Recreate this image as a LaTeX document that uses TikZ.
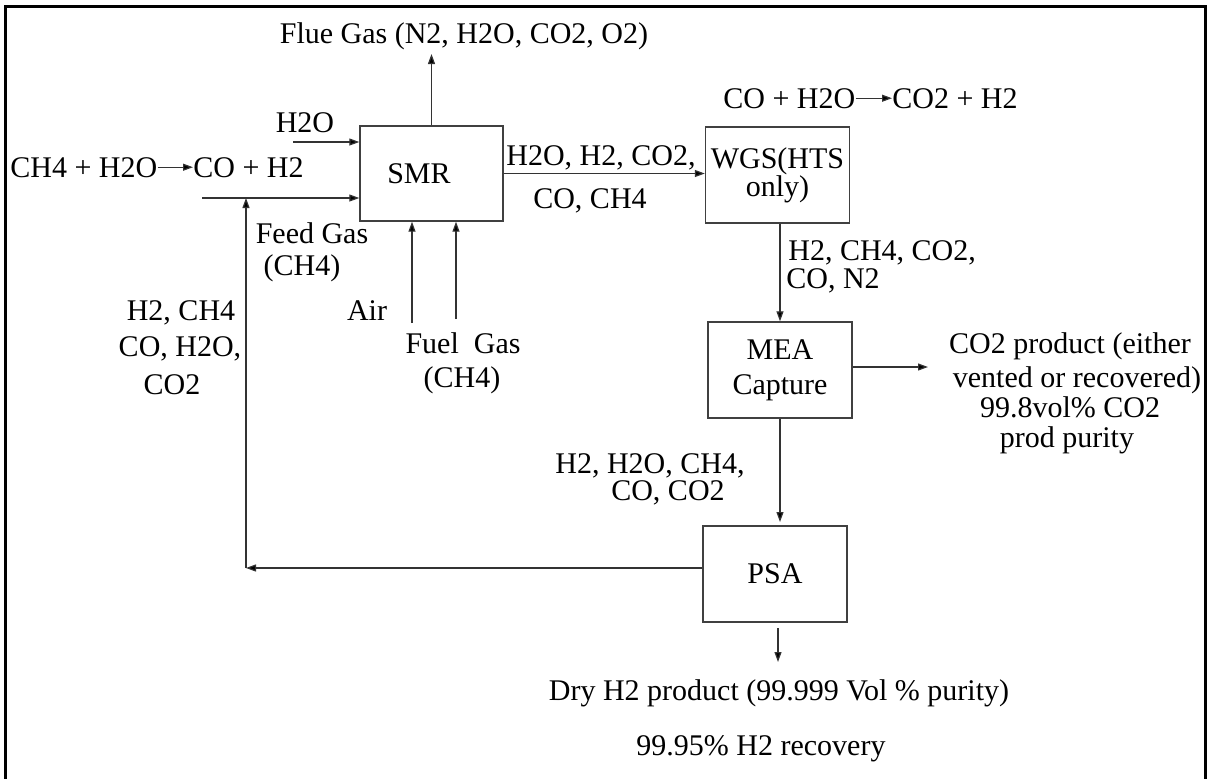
\documentclass[tikz,border=0pt]{standalone}
\usepackage{fontspec}
\setmainfont{Liberation Serif}
\usetikzlibrary{arrows.meta}
\begin{document}
\begin{tikzpicture}[x=0.5pt,y=-0.5pt,
  every node/.style={font=\fontsize{15}{17}\selectfont, inner sep=0pt},
  box/.style={draw=black!75, line width=0.7pt, minimum width=72pt, minimum height=48pt, align=center},
  lbl/.style={anchor=base},
  arr/.style={draw=black!80, line width=0.6pt, -{Triangle[length=5pt,width=3.5pt,fill=black]}},
  frame/.style={line width=1.5pt, line cap=rect}]
\useasboundingbox (0,0) rectangle (1207,778);
\draw[frame] (5.5,780) -- (5.5,6.5) -- (1205.5,6.5) -- (1205.5,780);

% process boxes
\node[box, minimum width=71.5pt, minimum height=47.5pt] (smr) at (431.5,173.5) {SMR\hspace*{12.5pt}};
\node[box, font=\fontsize{15}{14}\selectfont] (wgs) at (777.5,175) {WGS(HTS\\only)};
\node[box, font=\fontsize{15}{17.5}\selectfont] (mea) at (780,370) {MEA\\Capture};
\node[box] (psa) at (775,574) {PSA};

% flue gas
\node[lbl] (flue) at (464,43) {Flue Gas (N2, H2O, CO2, O2)};
\coordinate (fluetip) at (431.5,54);
\draw[arr] (smr.north) -- (fluetip);

% H2O in
\node[lbl] (h2o) at (305,132) {H2O};
\coordinate (h2oin) at (293,142);
\draw[arr] (h2oin) -- (h2oin -| smr.west);

% reforming reaction
\node[lbl, anchor=base west] (r1a) at (10,177) {CH4 + H2O};
\node[lbl, anchor=base west] (r1b) at (193,177) {CO + H2};
\draw[arr] (r1a.east) -- (r1b.west);

% feed
\coordinate (feedin) at (202,198);
\draw[arr] (feedin) -- (feedin -| smr.west);
\node[lbl] (feed1) at (312,243) {Feed Gas};
\node[lbl] (feed2) at (302,275) {(CH4)};

% air and fuel
\coordinate (airin) at (412,323);
\draw[arr] (airin) -- (airin |- smr.south);
\node[lbl] (air) at (367,320) {Air};
\coordinate (fuelin) at (456,319);
\draw[arr] (fuelin) -- (fuelin |- smr.south);
\node[lbl] (fuel1) at (463,353) {Fuel\ \ Gas};
\node[lbl] (fuel2) at (462,387) {(CH4)};

% recycle
\coordinate (rc) at (246,568);
\coordinate (rtop) at (246,198);
\draw[arr] ([yshift=3pt]psa.west) -- (rc);
\draw[arr] (rc) -- (rtop);
\node[lbl] (rl1) at (181,320) {H2, CH4};
\node[lbl] (rl2) at (180,356) {CO, H2O,};
\node[lbl] (rl3) at (172,394) {CO2};

% SMR -> WGS
\draw[arr] (smr.east) -- (wgs.west |- smr.east);
\node[lbl] (s1) at (601,165) {H2O, H2, CO2,};
\node[lbl] (s2) at (590,208) {CO, CH4};

% shift reaction
\node[lbl, anchor=base west] (r2a) at (723,108) {CO + H2O};
\node[lbl, anchor=base west] (r2b) at (892,108) {CO2 + H2};
\draw[arr] (r2a.east) -- (r2b.west);

% WGS -> MEA
\draw[arr] (mea.north |- wgs.south) -- (mea.north);
\node[lbl, anchor=base west] (w1) at (788,260) {H2, CH4, CO2,};
\node[lbl, anchor=base west] (w2) at (786,288) {CO, N2};

% MEA -> PSA
\coordinate (psatop) at (780,522);
\draw[arr] (mea.south) -- (psatop);
\node[lbl] (m1) at (650,473) {H2, H2O, CH4,};
\node[lbl] (m2) at (668,500) {CO, CO2};

% MEA -> CO2 product
\coordinate (co2tip) at (928,367);
\draw[arr] (mea.east |- co2tip) -- (co2tip);
\node[lbl] (c1) at (1070,353) {CO2 product (either};
\node[lbl] (c2) at (1077,387) {vented or recovered)};
\node[lbl] (c3) at (1070,417) {99.8vol\% CO2};
\node[lbl] (c4) at (1067,447) {prod purity};

% PSA -> H2 product
\coordinate (h2top) at (778,628);
\coordinate (h2tip) at (778,662);
\draw[arr] (h2top) -- (h2tip);
\node[lbl] (d1) at (779,700) {Dry H2 product (99.999 Vol \% purity)};
\node[lbl] (d2) at (761,755) {99.95\% H2 recovery};
\end{tikzpicture}
\end{document}
